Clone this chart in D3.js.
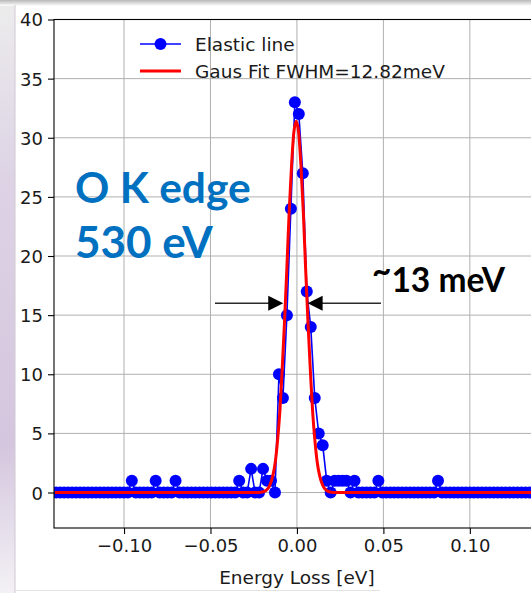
<!DOCTYPE html>
<html lang="en">
<head>
<meta charset="UTF-8">
<title>Elastic line</title>
<script src="https://d3js.org/d3.v7.min.js"></script>
<style>
  body { margin: 0; background: #fff; }
  svg { display: block; }
</style>
</head>
<body>
<div id="chart"></div>
<script>
// measured elastic line (energy loss in eV, counts)
const energy = [
  -0.1392, -0.1369, -0.1346, -0.1323, -0.1300, -0.1277, -0.1254, -0.1231, -0.1208, -0.1185,
  -0.1162, -0.1139, -0.1116, -0.1093, -0.1070, -0.1047, -0.1024, -0.1001, -0.0978, -0.0955,
  -0.0932, -0.0909, -0.0886, -0.0863, -0.0840, -0.0817, -0.0794, -0.0771, -0.0748, -0.0725,
  -0.0702, -0.0679, -0.0656, -0.0633, -0.0610, -0.0587, -0.0564, -0.0541, -0.0518, -0.0495,
  -0.0472, -0.0449, -0.0426, -0.0403, -0.0380, -0.0357, -0.0334, -0.0311, -0.0288, -0.0265,
  -0.0242, -0.0219, -0.0196, -0.0173, -0.0150, -0.0127, -0.0104, -0.0081, -0.0058, -0.0035,
  -0.0012, 0.0011, 0.0034, 0.0057, 0.0080, 0.0103, 0.0126, 0.0149, 0.0172, 0.0195,
  0.0218, 0.0241, 0.0264, 0.0287, 0.0310, 0.0333, 0.0356, 0.0379, 0.0402, 0.0425,
  0.0448, 0.0471, 0.0494, 0.0517, 0.0540, 0.0563, 0.0586, 0.0609, 0.0632, 0.0655,
  0.0678, 0.0701, 0.0724, 0.0747, 0.0770, 0.0793, 0.0816, 0.0839, 0.0862, 0.0885,
  0.0908, 0.0931, 0.0954, 0.0977, 0.1000, 0.1023, 0.1046, 0.1069, 0.1092, 0.1115,
  0.1138, 0.1161, 0.1184, 0.1207, 0.1230, 0.1253, 0.1276, 0.1299, 0.1322, 0.1345,
  0.1368, 0.1391
];
const counts = [
  0, 0, 0, 0, 0, 0, 0, 0, 0, 0,
  0, 0, 0, 0, 0, 0, 0, 0, 0, 1,
  0, 0, 0, 0, 0, 1, 0, 0, 0, 0,
  1, 0, 0, 0, 0, 0, 0, 0, 0, 0,
  0, 0, 0, 0, 0, 0, 1, 0, 0, 2,
  0, 0, 2, 1, 1, 0, 10, 8, 15, 24,
  33, 32, 27, 17, 14, 8, 5, 4, 1, 0,
  1, 1, 1, 1, 0, 1, 0, 0, 0, 0,
  0, 1, 0, 0, 0, 0, 0, 0, 0, 0,
  0, 0, 0, 0, 0, 0, 1, 0, 0, 0,
  0, 0, 0, 0, 0, 0, 0, 0, 0, 0,
  0, 0, 0, 0, 0, 0, 0, 0, 0, 0,
  0, 0
];

// gaussian fit, sampled
const fitEnergy = [
  -0.1400, -0.0600, -0.0222, -0.0194, -0.0167, -0.0154, -0.0140, -0.0126, -0.0113, -0.0099,
  -0.0086, -0.0072, -0.0058, -0.0045, -0.0031, -0.0018, -0.0004, 0.0010, 0.0023, 0.0037,
  0.0050, 0.0064, 0.0078, 0.0091, 0.0105, 0.0118, 0.0132, 0.0146, 0.0159, 0.0186,
  0.0214, 0.0600, 0.1400
];
const fitCounts = [
  0, 0, 0.01, 0.07, 0.35, 0.72, 1.38, 2.50, 4.25, 6.79,
  10.20, 14.38, 19.04, 23.70, 27.71, 30.43, 31.40, 30.43, 27.71, 23.70,
  19.04, 14.38, 10.20, 6.79, 4.25, 2.50, 1.38, 0.72, 0.35, 0.07,
  0.01, 0, 0
];

const xTicks = [-0.10, -0.05, 0.00, 0.05, 0.10];
const yTicks = [0, 5, 10, 15, 20, 25, 30, 35, 40];
const legendLabels = ["Elastic line", "Gaus Fit FWHM=12.82meV"];

// FWHM arrows, in data units
const arrowLevel = 16;
const fwhmArrows = [
  { from: -0.0474, to: -0.0079 },
  { from: 0.0486, to: 0.0062 }
];

const width = 531, height = 593;
const plot = { left: 54, top: 19.5, right: 539, bottom: 528 };
const font = "'DejaVu Sans', sans-serif";

const svg = d3.select("#chart").append("svg")
  .attr("width", width)
  .attr("height", height);

const defs = svg.append("defs");

// slide background bits (side strip + top shadow)
const side = defs.append("linearGradient").attr("id", "side")
  .attr("x1", 0).attr("y1", 0).attr("x2", 0).attr("y2", 1);
side.append("stop").attr("offset", "0%").attr("stop-color", "#ececec");
side.append("stop").attr("offset", "30%").attr("stop-color", "#ddd3e5");
side.append("stop").attr("offset", "75%").attr("stop-color", "#d4c6de");
side.append("stop").attr("offset", "100%").attr("stop-color", "#f3f1f5");

const topShade = defs.append("linearGradient").attr("id", "topShade")
  .attr("x1", 0).attr("y1", 0).attr("x2", 0).attr("y2", 1);
topShade.append("stop").attr("offset", "0%").attr("stop-color", "#b8b8b8");
topShade.append("stop").attr("offset", "100%").attr("stop-color", "#ffffff");

defs.append("clipPath").attr("id", "plotClip")
  .append("rect")
  .attr("x", plot.left).attr("y", plot.top)
  .attr("width", plot.right - plot.left)
  .attr("height", plot.bottom - plot.top);

svg.append("rect").attr("width", width).attr("height", height).attr("fill", "#fff");
svg.append("rect").attr("x", 0).attr("y", 0).attr("width", 15).attr("height", height)
  .attr("fill", "url(#side)");
svg.append("rect").attr("x", 0).attr("y", 0).attr("width", width).attr("height", 6)
  .attr("fill", "url(#topShade)");
svg.append("line").attr("x1", 15).attr("x2", 15).attr("y1", 5).attr("y2", height)
  .attr("stroke", "#cfc8d4").attr("stroke-width", 1);
svg.append("line").attr("x1", 15).attr("x2", 380).attr("y1", 590.5).attr("y2", 590.5)
  .attr("stroke", "#e2e2e2").attr("stroke-width", 1);

const x = d3.scaleLinear().domain([-0.1405, 0.14]).range([plot.left, plot.right]);
const y = d3.scaleLinear().domain([-3, 40]).range([plot.bottom, plot.top]);

// grid
const grid = svg.append("g").attr("clip-path", "url(#plotClip)");
grid.selectAll(".gx").data(xTicks).enter().append("line")
  .attr("x1", d => x(d)).attr("x2", d => x(d))
  .attr("y1", plot.top).attr("y2", plot.bottom)
  .attr("stroke", "#b0b0b0").attr("stroke-width", 1);
grid.selectAll(".gy").data(yTicks).enter().append("line")
  .attr("x1", plot.left).attr("x2", plot.right)
  .attr("y1", d => y(d)).attr("y2", d => y(d))
  .attr("stroke", "#b0b0b0").attr("stroke-width", 1);

// data
const points = energy.map((e, i) => [e, counts[i]]);
const fit = fitEnergy.map((e, i) => [e, fitCounts[i]]);

const layer = svg.append("g").attr("clip-path", "url(#plotClip)");
layer.append("path")
  .datum(points)
  .attr("fill", "none")
  .attr("stroke", "#0000ff")
  .attr("stroke-width", 1.6)
  .attr("d", d3.line().x(d => x(d[0])).y(d => y(d[1])));

layer.selectAll("circle")
  .data(points)
  .enter()
  .append("circle")
  .attr("cx", d => x(d[0]))
  .attr("cy", d => y(d[1]))
  .attr("r", 6)
  .attr("fill", "#0000ff");

layer.append("path")
  .datum(fit)
  .attr("fill", "none")
  .attr("stroke", "#ff0000")
  .attr("stroke-width", 3)
  .attr("d", d3.line().curve(d3.curveMonotoneX).x(d => x(d[0])).y(d => y(d[1])));

// axes
const fmt = d => d3.format(".2f")(d).replace("-", "\u2212");

const xAxis = svg.append("g")
  .attr("transform", `translate(0,${plot.bottom})`)
  .call(d3.axisBottom(x).tickValues(xTicks).tickFormat(fmt).tickSize(6).tickSizeOuter(0).tickPadding(5));
const yAxis = svg.append("g")
  .attr("transform", `translate(${plot.left},0)`)
  .call(d3.axisLeft(y).tickValues(yTicks).tickFormat(d3.format("d")).tickSize(6).tickSizeOuter(0).tickPadding(5));

[xAxis, yAxis].forEach(a => {
  a.select(".domain").remove();
  a.selectAll("line").attr("stroke", "#000").attr("stroke-width", 1.1);
  a.selectAll("text").attr("font-family", font).attr("font-size", "18px").attr("fill", "#1a1a1a");
});
yAxis.selectAll("text").attr("dy", "0.36em");

svg.append("rect")
  .attr("x", plot.left).attr("y", plot.top)
  .attr("width", plot.right - plot.left)
  .attr("height", plot.bottom - plot.top)
  .attr("fill", "none")
  .attr("stroke", "#000")
  .attr("stroke-width", 1.1);

svg.append("text")
  .attr("x", x(0))
  .attr("y", 584)
  .attr("text-anchor", "middle")
  .attr("font-family", font)
  .attr("font-size", "18.5px")
  .attr("fill", "#1a1a1a")
  .text("Energy Loss [eV]");

// legend
const legend = svg.append("g").attr("transform", "translate(140,44)");
legendLabels.forEach((label, i) => {
  const g = legend.append("g").attr("transform", `translate(0,${i * 27})`);
  g.append("line").attr("x1", 0).attr("x2", 41).attr("y1", 0).attr("y2", 0)
    .attr("stroke", i === 0 ? "#0000ff" : "#ff0000")
    .attr("stroke-width", i === 0 ? 1.6 : 3);
  if (i === 0) g.append("circle").attr("cx", 20.5).attr("cy", 0).attr("r", 6).attr("fill", "#0000ff");
  g.append("text")
    .attr("x", 55).attr("y", 7)
    .attr("font-family", font)
    .attr("font-size", "18.5px")
    .attr("fill", "#1a1a1a")
    .text(label);
});

// annotations
svg.append("text")
  .attr("x", 75).attr("y", 203)
  .attr("font-family", "Lato, sans-serif").attr("font-weight", "bold")
  .attr("font-size", "42.5px").attr("fill", "#0070c0")
  .text("O K edge");
svg.append("text")
  .attr("x", 75).attr("y", 258)
  .attr("font-family", "Lato, sans-serif").attr("font-weight", "bold")
  .attr("font-size", "44px").attr("fill", "#0070c0")
  .text("530 eV");
const fwhmText = svg.append("text")
  .attr("x", 372).attr("y", 292)
  .attr("font-family", "Lato, sans-serif").attr("font-weight", "bold")
  .attr("font-size", "33.5px").attr("fill", "#000");
fwhmText.append("tspan").attr("dy", -9).text("~");
fwhmText.append("tspan").attr("dy", 9).text("13 meV");

const arrows = svg.append("g");
fwhmArrows.forEach(a => {
  const x0 = x(a.from), x1 = x(a.to), yy = y(arrowLevel);
  const dir = x1 > x0 ? 1 : -1;
  arrows.append("line")
    .attr("x1", x0).attr("x2", x1 - dir * 14)
    .attr("y1", yy).attr("y2", yy)
    .attr("stroke", "#2b2b2b").attr("stroke-width", 1.5);
  arrows.append("path")
    .attr("d", `M${x1},${yy} L${x1 - dir * 15},${yy - 7.5} L${x1 - dir * 15},${yy + 7.5} Z`)
    .attr("fill", "#000");
});
</script>
</body>
</html>
